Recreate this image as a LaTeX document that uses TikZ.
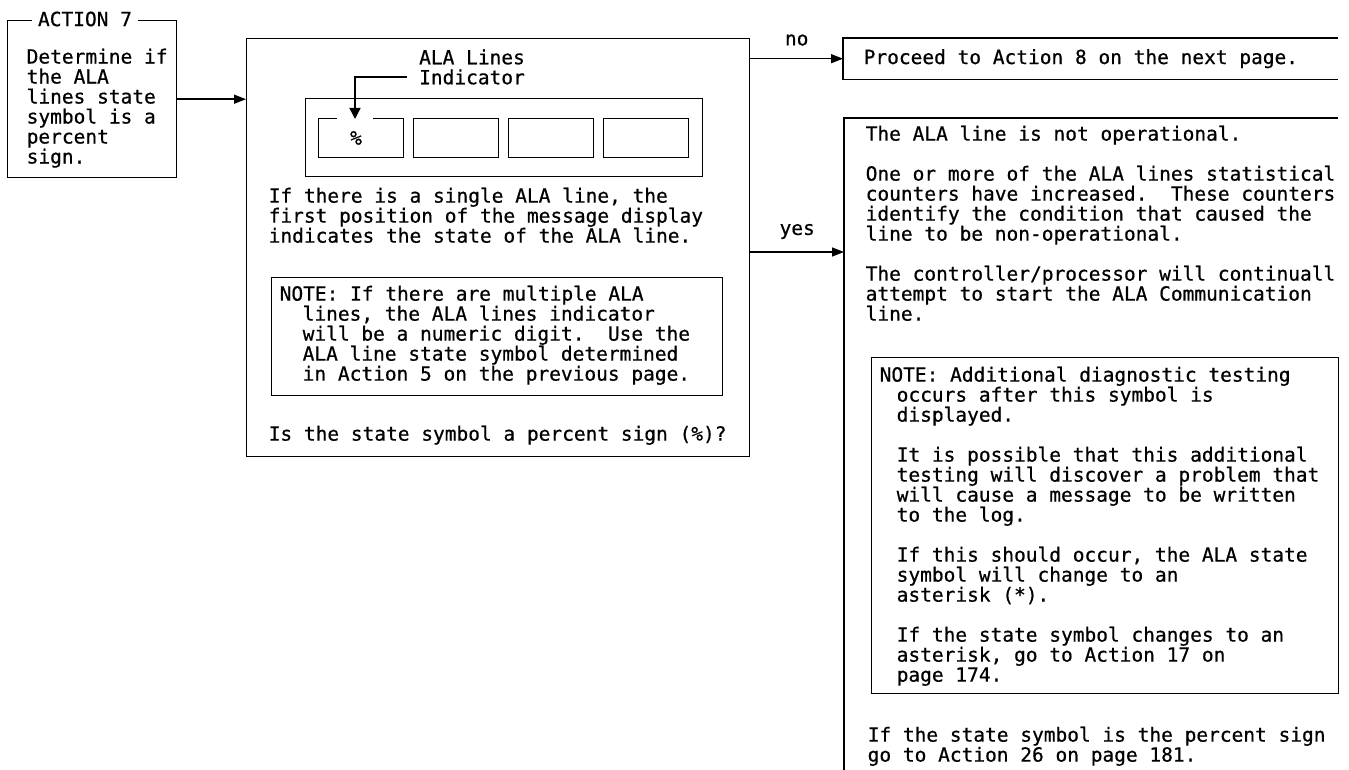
\documentclass[tikz,border=0pt]{standalone}
\usepackage{fontspec}
\setmonofont{DejaVu Sans Mono}[FakeBold=0.6]
\usetikzlibrary{arrows.meta,positioning,calc}
\frenchspacing
\newcommand\indl{\hspace*{23pt}}
\newcommand\indr{\hspace*{17pt}}

\begin{document}
\begin{tikzpicture}[x=1pt,y=-1pt,line width=1.4pt,
  >={Triangle[length=12pt,width=9pt]},
  every node/.style={font=\fontsize{19.5}{20}\selectfont\ttfamily},
  box/.style={draw,rectangle,inner sep=0pt,anchor=north west},
  txt/.style={anchor=north west,align=left,inner sep=0pt}]
\useasboundingbox (0,0) rectangle (1349,770);

% action 7
\node[box,minimum width=169,minimum height=157] (act) at (7,20) {};
\node[fill=white,inner xsep=6pt,inner ysep=0pt] (acttitle) at (85,19) {ACTION 7};
\node[txt] (acttxt) at (26,48) {Determine if\\the ALA\\lines state\\symbol is a\\percent\\sign.};

% question box
\node[box,minimum width=503,minimum height=418] (main) at (246,38) {};
\draw[->] (act.east) -- (act.east -| main.west);
\node[align=center,inner sep=0pt] (indlbl) at (472,67) {ALA Lines\\Indicator};
\node[box,minimum width=397,minimum height=78] (disp) at (305,98) {};
\foreach \i/\x in {1/318,2/413,3/508,4/603}
  \node[box,minimum width=85,minimum height=39] (cell\i) at (\x,118) {};
\draw[white,line width=3pt] (337,118) -- (373,118);
\coordinate (lead) at (407,77);
\coordinate (mark) at (355,119);
\draw[-{Triangle[length=11pt,width=11pt]}] (lead) -| (mark);
\node (pct) at (356,138) {\%};
\node[txt] (single) at (268,187) {If there is a single ALA line, the\\first position of the message display\\indicates the state of the ALA line.};
\node[box,minimum width=451,minimum height=118] (note1) at (271,277) {};
\node[txt] (note1txt) at (279,285) {NOTE: If there are multiple ALA\\\indl lines, the ALA lines indicator\\\indl will be a numeric digit.\ \ Use the\\\indl ALA line state symbol determined\\\indl in Action 5 on the previous page.};
\node[txt] (ask) at (268,425) {Is the state symbol a percent sign (\%)?};

% no
\node[minimum width=494,minimum height=40,inner sep=0pt,anchor=north west] (proceed) at (843,38) {};
\draw (proceed.north east) -- (proceed.north west) -- (proceed.south west) -- (proceed.south east);
\node[anchor=west,inner sep=0pt] (proceedtxt) at ([xshift=20pt]proceed.west) {Proceed to Action 8 on the next page.};
\draw[->] (main.east |- proceed.west) -- node[above=9pt] (nolbl) {no} (proceed.west);

% yes
\node[minimum width=493,minimum height=652,inner sep=0pt,anchor=north west] (res) at (844,118) {};
\draw (res.north east) -- (res.north west) -- (res.south west);
\node[txt] (restxt) at (865,125) {The ALA line is not operational.\\[20pt]One or more of the ALA lines statistical\\counters have increased.\ \ These counters\\identify the condition that caused the\\line to be non-operational.\\[20pt]The controller/processor will continuall\\attempt to start the ALA Communication\\line.};
\coordinate (yarr) at (844,252);
\draw[->] (main.east |- yarr) -- node[above=9pt] (yeslbl) {yes} (res.west |- yarr);
\node[box,minimum width=467,minimum height=336] (note2) at (871,357) {};
\node[txt] (note2txt) at (879,366) {NOTE: Additional diagnostic testing\\\indr occurs after this symbol is\\\indr displayed.\\[20pt]\indr It is possible that this additional\\\indr testing will discover a problem that\\\indr will cause a message to be written\\\indr to the log.\\[20pt]\indr If this should occur, the ALA state\\\indr symbol will change to an\\\indr asterisk (*).\\[20pt]\indr If the state symbol changes to an\\\indr asterisk, go to Action 17 on\\\indr page 174.};
\node[txt] (final) at (867,726) {If the state symbol is the percent sign\\go to Action 26 on page 181.};
\end{tikzpicture}
\end{document}
